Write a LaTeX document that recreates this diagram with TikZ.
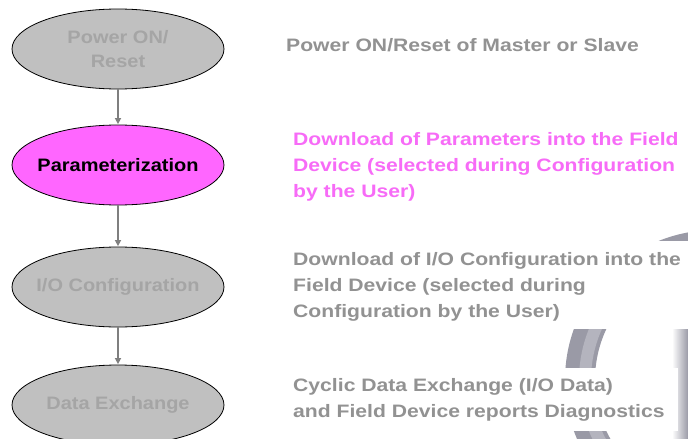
\documentclass[tikz,border=0pt]{standalone}
\usepackage{fontspec}
\setmainfont{Liberation Sans}
\newfontfamily\notefont{Liberation Sans}[FakeStretch=1.175]
\newfontfamily\stagefont{Liberation Sans}[FakeStretch=1.11]
\usetikzlibrary{shapes.geometric,arrows.meta}
\definecolor{ovalgray}{HTML}{C0C0C0}
\definecolor{ovaltext}{HTML}{A5A5A5}
\definecolor{notegray}{HTML}{929292}
\definecolor{hot}{HTML}{FF66FF}
\definecolor{hottext}{HTML}{F76BF7}
\definecolor{ringdark}{HTML}{9A9AA6}
\definecolor{ringlight}{HTML}{B4B4BE}
\definecolor{flowgray}{HTML}{7F7F7F}
\begin{document}
\begin{tikzpicture}[x=1pt,y=-1pt,
  stage/.style={ellipse,draw=black,line width=0.8pt,fill=ovalgray,
    minimum width=212pt,minimum height=80pt,inner xsep=-12pt,inner ysep=0pt,
    font=\stagefont\fontsize{18}{24}\selectfont\bfseries,text=ovaltext,align=center},
  note/.style={anchor=west,align=left,inner sep=0pt,
    font=\notefont\fontsize{18}{26}\selectfont\bfseries,text=notegray},
  flow/.style={draw=flowgray,line width=2pt,
    -{Triangle[length=6pt,width=6pt]},shorten >=0.5pt}]
\useasboundingbox (0,0) rectangle (688,439);
\fill[white] (0,0) rectangle (688,439);

% decorative ring in the lower right corner
\begin{scope}
  \clip (0,0) rectangle (688,439);
  \draw[ringdark,line width=30pt] (715,380) circle[radius=135pt];
  \draw[ringlight,line width=12pt] (715,380) circle[radius=130pt];
  \shade[left color=white,right color=ringdark] (672,320) rectangle (688,439);
\end{scope}

% white panels behind the lower notes
\fill[white] (286,241) rectangle (688,329);
\fill[white] (286,368) rectangle (678,431);

% process stages
\node[stage] (power) at (118,49) {Power ON/\\Reset};
\node[stage,fill=hot,text=black] (param) at (118,165) {Parameterization};
\node[stage] (io) at (118,287) {I/O Configuration};
\node[stage] (data) at (118,405) {Data Exchange};

\draw[flow] (power) -- (param);
\draw[flow] (param) -- (io);
\draw[flow] (io) -- (data);

% explanatory notes
\node[note] (n1) at (286,45) {Power ON/Reset of Master or Slave};
\node[note,text=hottext] (n2) at (293,167) {Download of Parameters into the Field\\Device (selected during Configuration\\by the User)};
\node[note] (n3) at (293,287) {Download of I/O Configuration into the\\Field Device (selected during\\Configuration by the User)};
\node[note] (n4) at (293,400) {Cyclic Data Exchange (I/O Data)\\and Field Device reports Diagnostics};
\end{tikzpicture}
\end{document}
